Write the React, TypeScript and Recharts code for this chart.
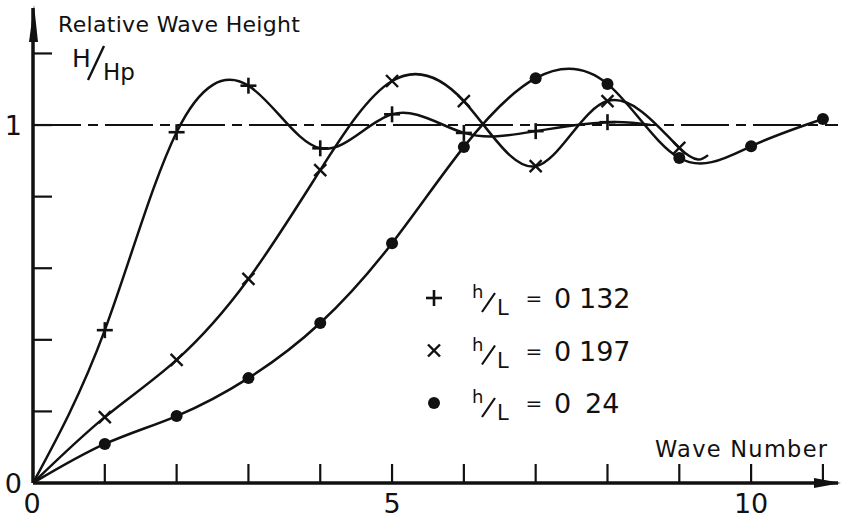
import React from 'react';
import { LineChart, Line, XAxis, YAxis, ReferenceLine } from 'recharts';

// wave number on the x axis, one value per marked point
const waveNumber = [0, 1, 2, 3, 4, 5, 6, 7, 8, 9, 10, 11];
const plus132 = [0, 0.427, 0.98, 1.11, 0.935, 1.03, 0.978, 0.983, 1.008];
const cross197 = [0, 0.184, 0.344, 0.57, 0.874, 1.123, 1.067, 0.885, 1.067, 0.936];
const dot24 = [0, 0.109, 0.187, 0.293, 0.447, 0.67, 0.939, 1.131, 1.115, 0.908, 0.941, 1.017];
// where the hand drawn curves stop past the last marker
const plusTail = [{ x: 8.6, y: 1.0 }];
const crossTail = [{ x: 9.4, y: 0.916 }];

const xTicks = [0, 1, 2, 3, 4, 5, 6, 7, 8, 9, 10, 11];
const xLabels = [0, 5, 10];
const yTicks = [0, 0.2, 0.4, 0.6, 0.8, 1.0, 1.2];
const yLabels = [0, 1];

const legendRows = [
  { marker: 'plus', name: 'h/L = 0 132', value: '132' },
  { marker: 'cross', name: 'h/L = 0 197', value: '197' },
  { marker: 'dot', name: 'h/L = 0 24', value: '24' },
];

const toPoints = (vals: number[], tail: { x: number; y: number }[] = []) =>
  vals.map((y, i) => ({ x: waveNumber[i], y })).concat(tail);

const plusData = toPoints(plus132, plusTail);
const crossData = toPoints(cross197, crossTail);
const dotData = toPoints(dot24);

const FONT = '"DejaVu Sans", sans-serif';
const INK = '#111';

function Marker({ kind, cx, cy }: { kind: string; cx: number; cy: number }) {
  if (kind === 'plus') {
    return (
      <g stroke={INK} strokeWidth={2.6}>
        <line x1={cx - 8} y1={cy} x2={cx + 8} y2={cy} />
        <line x1={cx} y1={cy - 8} x2={cx} y2={cy + 8} />
      </g>
    );
  }
  if (kind === 'cross') {
    return (
      <g stroke={INK} strokeWidth={2.4}>
        <line x1={cx - 6} y1={cy - 6} x2={cx + 6} y2={cy + 6} />
        <line x1={cx - 6} y1={cy + 6} x2={cx + 6} y2={cy - 6} />
      </g>
    );
  }
  return <circle cx={cx} cy={cy} r={6} fill={INK} />;
}

const makeDot = (kind: string) => (props: any) => {
  const { cx, cy, payload, index } = props;
  const x = payload.x;
  if (x === 0 || !Number.isInteger(x)) return <g key={`d${kind}${index}`} />;
  return (
    <g key={`d${kind}${index}`}>
      <Marker kind={kind} cx={cx} cy={cy} />
    </g>
  );
};

const XTick = (props: any) => {
  const { x, y, payload } = props;
  const v = payload.value;
  return (
    <g>
      {v !== 0 && <line x1={x} y1={y} x2={x} y2={y - 19} stroke={INK} strokeWidth={2.2} />}
      {xLabels.includes(v) && (
        <text x={v === 0 ? x - 1 : x} y={y + 30} textAnchor="middle" fontSize={27} fontFamily={FONT} fill={INK}>
          {v}
        </text>
      )}
    </g>
  );
};

const YTick = (props: any) => {
  const { x, y, payload } = props;
  const v = payload.value;
  return (
    <g>
      {v !== 0 && <line x1={x} y1={y} x2={x + 19} y2={y} stroke={INK} strokeWidth={2.2} />}
      {yLabels.includes(v) && (
        <text x={x - 11} y={y + 10} textAnchor="end" fontSize={27} fontFamily={FONT} fill={INK}>
          {v}
        </text>
      )}
    </g>
  );
};

function LegendRow({ kind, cy, value }: { kind: string; cy: number; value: string }) {
  return (
    <g fill={INK} fontFamily={FONT}>
      <Marker kind={kind} cx={434} cy={cy} />
      <text x={472} y={cy} fontSize={18}>h</text>
      <line x1={482} y1={cy + 14} x2={495} y2={cy - 5} stroke={INK} strokeWidth={2.2} />
      <text x={497} y={cy + 17} fontSize={21}>L</text>
      <text x={534} y={cy + 7} fontSize={20} textAnchor="middle">=</text>
      <text x={554} y={cy + 10} fontSize={27}>0</text>
      <text x={value.startsWith('1') ? 579 : 585} y={cy + 10} fontSize={27}>{value}</text>
    </g>
  );
}

export default function App() {
  return (
    <div style={{ position: 'absolute', left: 0, top: 0, background: '#fff' }}>
      <LineChart width={841} height={518} margin={{ top: 8, right: 3, left: 32, bottom: 34 }}>
        <XAxis
          type="number"
          dataKey="x"
          domain={[0, 11.21]}
          ticks={xTicks}
          allowDataOverflow
          height={1}
          tickSize={0}
          tickMargin={0}
          tickLine={false}
          tick={<XTick />}
          axisLine={{ stroke: INK, strokeWidth: 3.5 }}
          interval={0}
        />
        <YAxis
          type="number"
          dataKey="y"
          domain={[0, 1.327]}
          ticks={yTicks}
          allowDataOverflow
          width={1}
          tickSize={0}
          tickMargin={0}
          tickLine={false}
          tick={<YTick />}
          axisLine={{ stroke: INK, strokeWidth: 3.5 }}
          interval={0}
        />
        <ReferenceLine y={1} stroke={INK} strokeWidth={2} strokeDasharray="48 7 10 7" />
        <Line data={plusData} dataKey="y" type="natural" stroke={INK} strokeWidth={2.5} dot={makeDot('plus')} activeDot={false} isAnimationActive={false} />
        <Line data={crossData} dataKey="y" type="natural" stroke={INK} strokeWidth={2.5} dot={makeDot('cross')} activeDot={false} isAnimationActive={false} />
        <Line data={dotData} dataKey="y" type="natural" stroke={INK} strokeWidth={2.5} dot={makeDot('dot')} activeDot={false} isAnimationActive={false} />

        <polygon points="34,5 29,42 38,42" fill={INK} />
        <polygon points="841,483 814,478 814,488" fill={INK} />

        <text x={58} y={32} fontSize={22} fontFamily={FONT} fill={INK} textLength={242}>
          Relative Wave Height
        </text>
        <text x={72} y={67} fontSize={25} fontFamily={FONT} fill={INK}>H</text>
        <line x1={88} y1={80} x2={104} y2={46} stroke={INK} strokeWidth={2.4} />
        <text x={103} y={80} fontSize={23} fontFamily={FONT} fill={INK}>Hp</text>
        <text x={655} y={457} fontSize={22.5} fontFamily={FONT} fill={INK} textLength={172}>
          Wave Number
        </text>

        {legendRows.map((r, i) => (
          <LegendRow key={r.name} kind={r.marker} cy={298 + i * 52.5} value={r.value} />
        ))}
      </LineChart>
    </div>
  );
}
